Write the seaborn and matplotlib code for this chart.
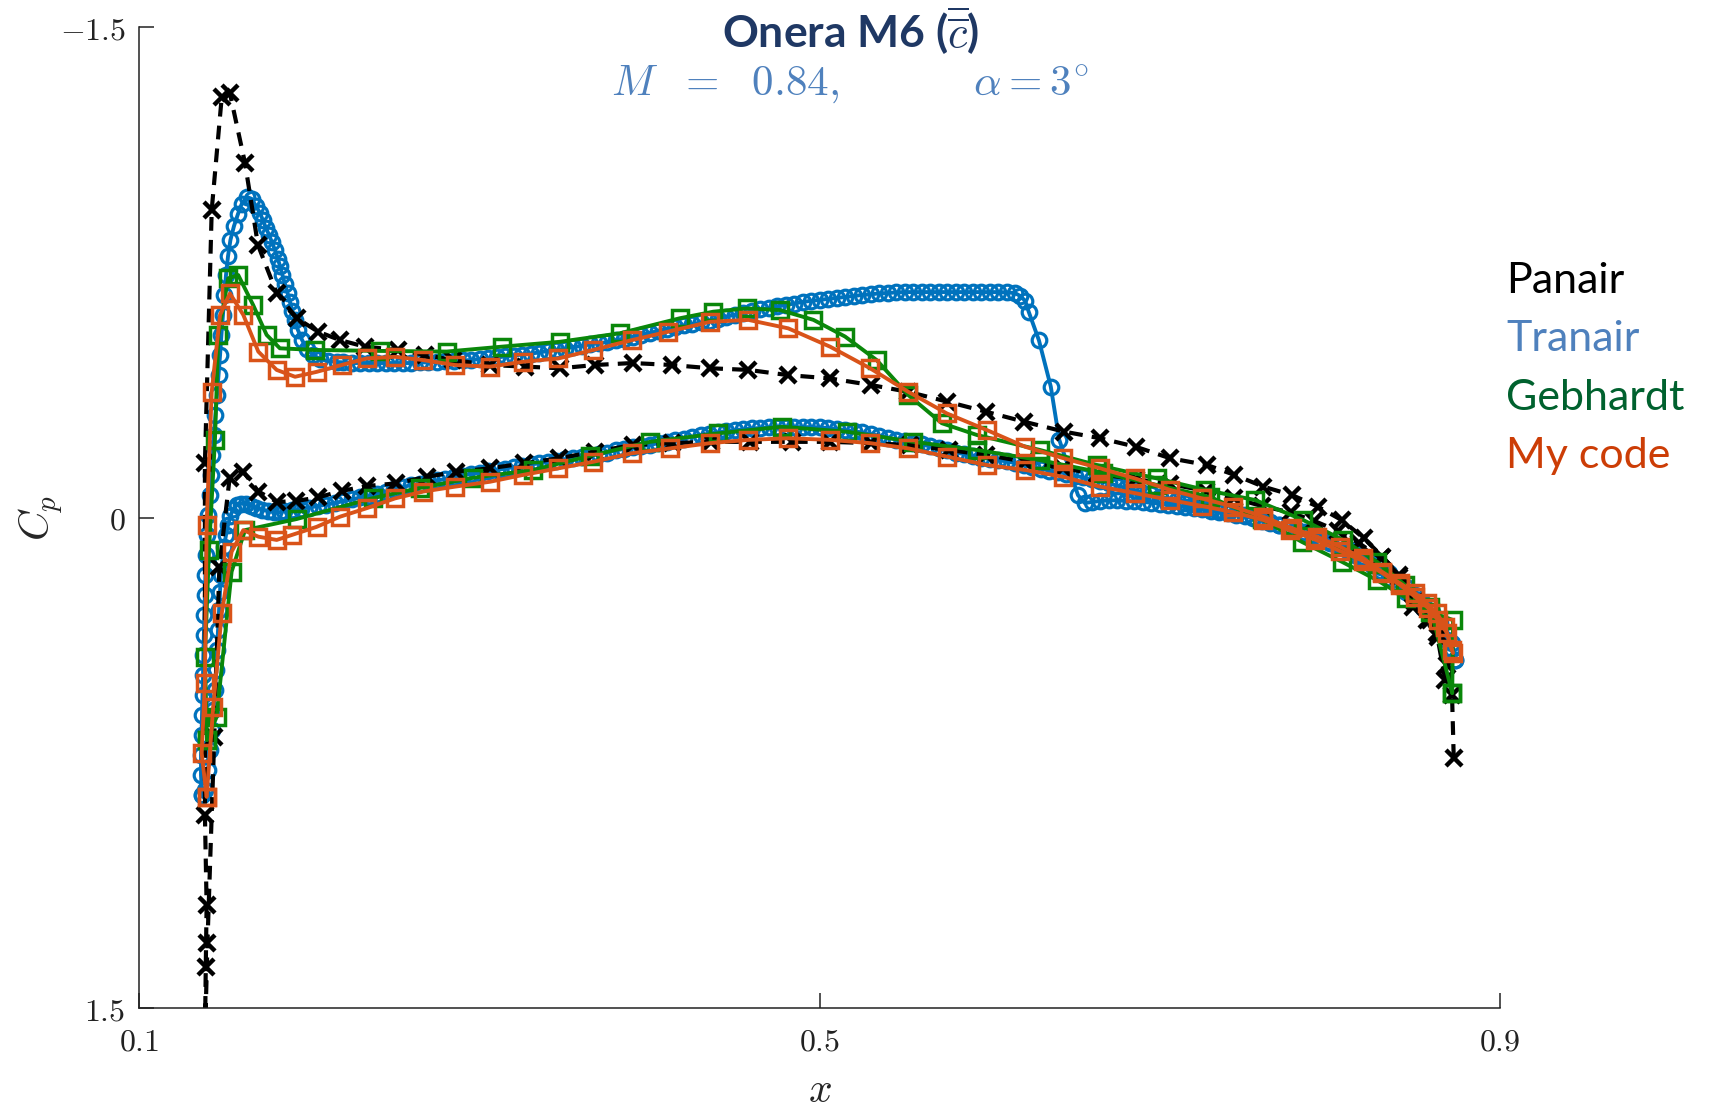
import matplotlib
matplotlib.use("Agg")
import matplotlib.pyplot as plt
import pandas as pd
import seaborn as sns

# ---------------- data (x/c, Cp) ----------------
# Panair: lower surface (TE -> LE) then upper surface (LE -> TE)
panair_lower_x = [0.868, 0.863, 0.857, 0.849, 0.841, 0.830, 0.817, 0.805, 0.791, 0.777,
                  0.760, 0.744, 0.727, 0.706, 0.686, 0.663, 0.643, 0.621, 0.598, 0.576,
                  0.553, 0.530, 0.506, 0.484, 0.459, 0.436, 0.413, 0.390, 0.368, 0.347,
                  0.326, 0.306, 0.286, 0.269, 0.251, 0.234, 0.219, 0.205, 0.192, 0.181,
                  0.170, 0.161, 0.153, 0.147, 0.144, 0.140, 0.1385]
panair_lower_cp = [0.496, 0.353, 0.313, 0.272, 0.180, 0.123, 0.077, 0.041, 0.010, -0.016,
                   -0.036, -0.059, -0.082, -0.103, -0.118, -0.134, -0.151, -0.171, -0.192, -0.207,
                   -0.222, -0.228, -0.232, -0.232, -0.232, -0.232, -0.228, -0.222, -0.202, -0.182,
                   -0.166, -0.151, -0.140, -0.125, -0.105, -0.097, -0.082, -0.062, -0.051, -0.048,
                   -0.080, -0.141, -0.120, 0.151, 0.671, 1.300, 1.600]
panair_upper_x = [0.139, 0.1395, 0.1385, 0.1385, 0.1425, 0.1484, 0.1532, 0.1621, 0.1697, 0.1807,
                  0.1925, 0.205, 0.218, 0.2326, 0.252, 0.268, 0.2844, 0.306, 0.3268, 0.3474,
                  0.368, 0.390, 0.413, 0.4356, 0.458, 0.4816, 0.506, 0.530, 0.552, 0.575,
                  0.598, 0.620, 0.644, 0.665, 0.686, 0.706, 0.728, 0.744, 0.761, 0.778,
                  0.793, 0.807, 0.820, 0.831, 0.841, 0.850, 0.859, 0.864, 0.869, 0.872, 0.873]
panair_upper_cp = [1.373, 1.184, 0.909, -0.167, -0.941, -1.287, -1.298, -1.084, -0.834, -0.687,
                   -0.610, -0.569, -0.543, -0.523, -0.513, -0.498, -0.482, -0.467, -0.462, -0.457,
                   -0.467, -0.473, -0.467, -0.457, -0.452, -0.436, -0.426, -0.406, -0.385, -0.355,
                   -0.324, -0.294, -0.263, -0.243, -0.217, -0.182, -0.161, -0.131, -0.095, -0.069,
                   -0.034, 0.007, 0.062, 0.119, 0.175, 0.257, 0.313, 0.364, 0.450, 0.542, 0.735]

# Tranair: upper surface (LE -> TE)
tranair_upper_x = [
    0.1368, 0.1362, 0.1362, 0.1365, 0.1368, 0.1371, 0.1374, 0.1376, 0.1379, 0.1382,
    0.1385, 0.1388, 0.1394, 0.1400, 0.1406, 0.1412, 0.1421, 0.1429, 0.1438, 0.1447,
    0.1456, 0.1465, 0.1474, 0.1482, 0.1491, 0.1500, 0.1509, 0.1521, 0.1535, 0.1556,
    0.1579, 0.1601, 0.1631, 0.1660, 0.1685, 0.1709, 0.1726, 0.1744, 0.1762, 0.1779,
    0.1797, 0.1815, 0.1826, 0.1841, 0.1856, 0.1871, 0.1885, 0.1900, 0.1915, 0.1932,
    0.1956, 0.1985, 0.2021, 0.2062, 0.2109, 0.2162,
    0.220, 0.225, 0.230, 0.235, 0.240, 0.245, 0.250, 0.255, 0.260, 0.265,
    0.270, 0.275, 0.280, 0.285, 0.290, 0.295, 0.300, 0.305, 0.310, 0.315,
    0.320, 0.325, 0.330, 0.335, 0.340, 0.345, 0.350, 0.355, 0.360, 0.365,
    0.370, 0.375, 0.380, 0.385, 0.390, 0.395, 0.400, 0.405, 0.410, 0.415,
    0.420, 0.425, 0.430, 0.435, 0.440, 0.445, 0.450, 0.455, 0.460, 0.465,
    0.470, 0.475, 0.480, 0.485, 0.490, 0.495, 0.500, 0.505, 0.510, 0.515,
    0.520, 0.525, 0.530, 0.535, 0.540, 0.545, 0.550, 0.555, 0.560, 0.565,
    0.570, 0.575, 0.580, 0.585, 0.590, 0.595, 0.600, 0.605, 0.610, 0.615,
    0.618, 0.621, 0.623, 0.629, 0.636, 0.641, 0.652, 0.656,
    0.660, 0.665, 0.670, 0.675, 0.680, 0.685, 0.690, 0.695, 0.700, 0.705,
    0.710, 0.715, 0.720, 0.725, 0.730, 0.735, 0.740, 0.745, 0.750, 0.755,
    0.760, 0.765, 0.770, 0.775, 0.780, 0.785, 0.790, 0.795, 0.800, 0.805,
    0.810, 0.815, 0.820, 0.825, 0.830, 0.835, 0.840, 0.845, 0.850, 0.855,
    0.860, 0.865, 0.869, 0.872, 0.874]
tranair_upper_cp = [
    0.848, 0.787, 0.726, 0.665, 0.603, 0.542, 0.481, 0.420, 0.359, 0.298,
    0.236, 0.175, 0.114, 0.053, -0.008, -0.070, -0.131, -0.192, -0.253, -0.314,
    -0.375, -0.436, -0.497, -0.559, -0.620, -0.681, -0.742, -0.800, -0.849, -0.892,
    -0.928, -0.959, -0.981, -0.975, -0.953, -0.932, -0.910, -0.886, -0.865, -0.843,
    -0.819, -0.791, -0.770, -0.742, -0.715, -0.687, -0.660, -0.632, -0.605, -0.574,
    -0.544, -0.516, -0.498, -0.485, -0.479, -0.476,
    -0.475, -0.473, -0.473, -0.473, -0.473, -0.473, -0.473, -0.473, -0.473, -0.475,
    -0.475, -0.476, -0.478, -0.479, -0.481, -0.482, -0.485, -0.487, -0.490, -0.493,
    -0.496, -0.499, -0.502, -0.505, -0.510, -0.513, -0.517, -0.522, -0.525, -0.530,
    -0.533, -0.537, -0.543, -0.548, -0.553, -0.559, -0.565, -0.571, -0.577, -0.582,
    -0.588, -0.592, -0.597, -0.603, -0.609, -0.615, -0.620, -0.626, -0.631, -0.637,
    -0.641, -0.646, -0.650, -0.655, -0.660, -0.663, -0.666, -0.669, -0.672, -0.675,
    -0.678, -0.681, -0.683, -0.686, -0.687, -0.689, -0.690, -0.690, -0.690, -0.690,
    -0.690, -0.690, -0.690, -0.690, -0.690, -0.690, -0.690, -0.690, -0.689, -0.687,
    -0.678, -0.663, -0.630, -0.543, -0.401, -0.238, -0.069, -0.045,
    -0.048, -0.051, -0.053, -0.053, -0.051, -0.050, -0.048, -0.046, -0.043, -0.040,
    -0.037, -0.034, -0.031, -0.027, -0.022, -0.017, -0.013, -0.008, -0.004, 0.002,
    0.009, 0.015, 0.021, 0.028, 0.036, 0.044, 0.054, 0.064, 0.073, 0.083,
    0.094, 0.106, 0.120, 0.135, 0.151, 0.169, 0.189, 0.212, 0.236, 0.261,
    0.288, 0.322, 0.352, 0.383, 0.435]

# Tranair: lower surface (LE -> TE)
tranair_lower_x = [
    0.1368, 0.1385, 0.1403, 0.1415, 0.1426, 0.1435, 0.1444, 0.1450, 0.1456, 0.1462,
    0.1468, 0.1474, 0.1479, 0.1488, 0.1497, 0.1509, 0.1521, 0.1535, 0.1550, 0.1574,
    0.1597, 0.1626, 0.1656, 0.1685, 0.1721, 0.1756, 0.1791, 0.1826,
    0.185, 0.190, 0.195, 0.200, 0.205, 0.210, 0.215, 0.220, 0.225, 0.230,
    0.235, 0.240, 0.245, 0.250, 0.255, 0.260, 0.265, 0.270, 0.275, 0.280,
    0.285, 0.290, 0.295, 0.300, 0.305, 0.310, 0.315, 0.320, 0.325, 0.330,
    0.335, 0.340, 0.345, 0.350, 0.355, 0.360, 0.365, 0.370, 0.375, 0.380,
    0.385, 0.390, 0.395, 0.400, 0.405, 0.410, 0.415, 0.420, 0.425, 0.430,
    0.435, 0.440, 0.445, 0.450, 0.455, 0.460, 0.465, 0.470, 0.475, 0.480,
    0.485, 0.490, 0.495, 0.500, 0.505, 0.510, 0.515, 0.520, 0.525, 0.530,
    0.535, 0.540, 0.545, 0.550, 0.555, 0.560, 0.565, 0.570, 0.575, 0.580,
    0.585, 0.590, 0.595, 0.600, 0.605, 0.610, 0.615, 0.620, 0.625, 0.630,
    0.635, 0.640, 0.645, 0.650, 0.655, 0.660, 0.665, 0.670, 0.675, 0.680,
    0.685, 0.690, 0.695, 0.700, 0.705, 0.710, 0.715, 0.720, 0.725, 0.730,
    0.735, 0.740, 0.745, 0.750, 0.755, 0.760, 0.765, 0.770, 0.775, 0.780,
    0.785, 0.790, 0.795, 0.800, 0.805, 0.810, 0.815, 0.820, 0.825, 0.830,
    0.835, 0.840, 0.845, 0.850, 0.855, 0.860, 0.865, 0.869, 0.872, 0.874]
tranair_lower_cp = [
    0.848, 0.833, 0.772, 0.710, 0.649, 0.588, 0.527, 0.466, 0.405, 0.343,
    0.282, 0.227, 0.175, 0.129, 0.090, 0.053, 0.022, -0.005, -0.026, -0.039,
    -0.043, -0.042, -0.037, -0.031, -0.025, -0.020, -0.017, -0.017,
    -0.019, -0.024, -0.028, -0.031, -0.036, -0.040, -0.045, -0.051, -0.056, -0.062,
    -0.066, -0.074, -0.080, -0.088, -0.094, -0.100, -0.103, -0.109, -0.114, -0.118,
    -0.124, -0.129, -0.134, -0.138, -0.143, -0.146, -0.150, -0.155, -0.158, -0.163,
    -0.166, -0.170, -0.173, -0.178, -0.183, -0.187, -0.190, -0.195, -0.199, -0.206,
    -0.210, -0.215, -0.219, -0.222, -0.228, -0.233, -0.238, -0.242, -0.247, -0.253,
    -0.257, -0.261, -0.265, -0.268, -0.270, -0.273, -0.274, -0.276, -0.277, -0.277,
    -0.277, -0.277, -0.277, -0.276, -0.274, -0.271, -0.268, -0.264, -0.261, -0.256,
    -0.251, -0.245, -0.239, -0.235, -0.228, -0.224, -0.218, -0.212, -0.206, -0.199,
    -0.195, -0.190, -0.184, -0.181, -0.176, -0.172, -0.167, -0.161, -0.155, -0.150,
    -0.144, -0.140, -0.135, -0.129, -0.123, -0.117, -0.111, -0.105, -0.098, -0.091,
    -0.085, -0.077, -0.071, -0.063, -0.059, -0.053, -0.046, -0.042, -0.037, -0.031,
    -0.025, -0.020, -0.014, -0.008, -0.001, 0.006, 0.013, 0.021, 0.028, 0.038,
    0.047, 0.057, 0.067, 0.077, 0.088, 0.100, 0.114, 0.129, 0.145, 0.163,
    0.183, 0.203, 0.226, 0.250, 0.276, 0.307, 0.340, 0.374, 0.402, 0.435]

# Gebhardt
geb_upper_x = [0.1397, 0.1385, 0.1409, 0.1444, 0.1464, 0.1522, 0.1581, 0.1669, 0.1748, 0.1826,
               0.2032, 0.2415, 0.2807, 0.3131, 0.3474, 0.3826, 0.4179, 0.4375, 0.4572, 0.4768,
               0.4964, 0.5150, 0.5336, 0.5522, 0.5719, 0.5925, 0.6297, 0.6632, 0.6985, 0.7268,
               0.7562, 0.7844, 0.8079, 0.8279, 0.8444, 0.8591, 0.8721]
geb_upper_cp = [0.680, 0.425, 0.099, -0.238, -0.559, -0.732, -0.742, -0.650, -0.559, -0.518,
                -0.513, -0.510, -0.508, -0.523, -0.538, -0.564, -0.610, -0.630, -0.640, -0.635,
                -0.605, -0.554, -0.482, -0.375, -0.289, -0.253, -0.207, -0.161, -0.120, -0.085,
                -0.054, 0.007, 0.068, 0.135, 0.206, 0.273, 0.536]
geb_lower_x = [0.1397, 0.1454, 0.1542, 0.1621, 0.1925, 0.2374, 0.2650, 0.2962, 0.3315, 0.3650,
               0.4003, 0.4405, 0.4778, 0.5160, 0.5552, 0.5925, 0.6297, 0.6668, 0.6985, 0.7297,
               0.7601, 0.7837, 0.8073, 0.8279, 0.8450, 0.8591, 0.8726, 0.8721]
geb_lower_cp = [0.680, 0.609, 0.165, 0.038, 0.004, -0.060, -0.091, -0.122, -0.146, -0.189,
                -0.232, -0.258, -0.278, -0.263, -0.232, -0.207, -0.176, -0.137, -0.100, -0.063,
                0.005, 0.074, 0.135, 0.191, 0.245, 0.288, 0.313, 0.536]

# My code
my_upper_x = [0.1395, 0.1366, 0.1385, 0.1395, 0.1425, 0.1474, 0.1532, 0.1611, 0.1699, 0.1807,
              0.1915, 0.2042, 0.2189, 0.2336, 0.2503, 0.2669, 0.2856, 0.3062, 0.3258, 0.3464,
              0.3669, 0.3895, 0.4111, 0.4356, 0.4581, 0.4816, 0.5062, 0.5297, 0.5522, 0.5748,
              0.5984, 0.6209, 0.6434, 0.6650, 0.6856, 0.7062, 0.7248, 0.7432, 0.7609, 0.7778,
              0.7925, 0.8062, 0.8197, 0.8307, 0.8415, 0.8503, 0.8572, 0.8631, 0.8679, 0.8719]
my_upper_cp = [0.853, 0.720, 0.506, 0.022, -0.385, -0.620, -0.686, -0.620, -0.508, -0.452,
               -0.431, -0.446, -0.467, -0.487, -0.492, -0.482, -0.467, -0.462, -0.477, -0.487,
               -0.513, -0.543, -0.569, -0.599, -0.605, -0.579, -0.523, -0.457, -0.385, -0.319,
               -0.268, -0.217, -0.182, -0.151, -0.120, -0.085, -0.059, -0.034, -0.003, 0.032,
               0.058, 0.089, 0.124, 0.165, 0.201, 0.231, 0.262, 0.292, 0.333, 0.405]
my_lower_x = [0.1395, 0.1434, 0.1484, 0.1542, 0.1611, 0.1699, 0.1807, 0.1895, 0.2042, 0.2179,
              0.2336, 0.2503, 0.2669, 0.2856, 0.3062, 0.3258, 0.3464, 0.3669, 0.3895, 0.4121,
              0.4356, 0.4581, 0.4816, 0.5062, 0.5297, 0.5522, 0.5748, 0.5984, 0.6209, 0.6434,
              0.6650, 0.6856, 0.7062, 0.7248, 0.7432, 0.7609, 0.7768, 0.7915, 0.8062, 0.8197,
              0.8309, 0.8415, 0.8503, 0.8579, 0.8638, 0.8691, 0.8726]
my_lower_cp = [0.853, 0.578, 0.292, 0.104, 0.038, 0.058, 0.068, 0.053, 0.028, -0.003,
               -0.029, -0.059, -0.080, -0.095, -0.110, -0.131, -0.151, -0.171, -0.197, -0.212,
               -0.228, -0.238, -0.243, -0.238, -0.228, -0.212, -0.187, -0.161, -0.146, -0.125,
               -0.095, -0.075, -0.054, -0.036, -0.017, 0.007, 0.039, 0.067, 0.102, 0.132,
               0.169, 0.206, 0.242, 0.276, 0.313, 0.353, 0.414]

x_ticks = [0.1, 0.5, 0.9]
x_tick_labels = ["$0.1$", "$0.5$", "$0.9$"]
y_ticks = [-1.5, 0.0, 1.5]
y_tick_labels = ["$-1.5$", "$0$", "$1.5$"]

legend_names = ["Panair", "Tranair", "Gebhardt", "My code"]
legend_colors = ["#000000", "#4F81BD", "#00612E", "#CC3D06"]

# ---------------- style ----------------
sns.set_style("ticks")
plt.rcParams["font.family"] = ["Lato", "DejaVu Sans"]
plt.rcParams["mathtext.fontset"] = "cm"

fig = plt.figure(figsize=(17.09, 11.07), dpi=100)
ax = fig.add_axes([0.0816, 0.08925, 0.7959, 0.88618])


def draw(xs, ys, **kw):
    df = pd.DataFrame({"x": xs, "Cp": ys})
    sns.lineplot(data=df, x="x", y="Cp", sort=False, estimator=None, ax=ax, **kw)


c_tran = "#0072BD"
c_geb = "#0A870A"
c_my = "#D95319"

tran_kw = dict(color=c_tran, linewidth=2.8, marker="o", markersize=10.5,
               markerfacecolor="none", markeredgecolor=c_tran, markeredgewidth=2.3)
draw(tranair_upper_x, tranair_upper_cp, **tran_kw)
draw(tranair_lower_x, tranair_lower_cp, **tran_kw)

pan_kw = dict(color="black", linewidth=3.0, linestyle=(0, (3.3, 2.2)), marker="x",
              markersize=12, markeredgecolor="black", markeredgewidth=3.2)
draw(panair_lower_x + panair_upper_x, panair_lower_cp + panair_upper_cp, **pan_kw)

geb_kw = dict(color=c_geb, linewidth=2.8, marker="s", markersize=11.5,
              markerfacecolor="none", markeredgecolor=c_geb, markeredgewidth=2.5)
draw(geb_upper_x, geb_upper_cp, **geb_kw)
draw(geb_lower_x, geb_lower_cp, **geb_kw)

my_kw = dict(color=c_my, linewidth=2.8, marker="s", markersize=11.5,
             markerfacecolor="none", markeredgecolor=c_my, markeredgewidth=2.5)
draw(my_upper_x, my_upper_cp, **my_kw)
draw(my_lower_x, my_lower_cp, **my_kw)

ax.set_xlim(0.1, 0.9)
ax.set_ylim(1.5, -1.5)
ax.set_xticks(x_ticks)
ax.set_xticklabels(x_tick_labels)
ax.set_yticks(y_ticks)
ax.set_yticklabels(y_tick_labels)
ax.set_xlabel("")
ax.set_ylabel("")
ax.tick_params(axis="both", direction="in", length=11, width=1.1, labelsize=23,
               colors="#222222")
ax.tick_params(axis="x", pad=13)
ax.tick_params(axis="y", pad=10)
sns.despine(ax=ax)
for s in ("left", "bottom"):
    ax.spines[s].set_linewidth(1.1)
    ax.spines[s].set_color("#222222")

fig.text(820 / 1709, 1 - 1090 / 1107, "$x$", ha="center", va="center", fontsize=30)
fig.text(41 / 1709, 1 - 518 / 1107, "$C_p$", ha="center", va="center", fontsize=30,
         rotation=90)

fig.text(0.4975, 0.9724, r"Onera M6 ($\overline{\overline{c}}$)", ha="center", va="center",
         fontsize=32, fontweight="bold", color="#1F3864")
fig.text(0.4975, 0.9232, r"$M\ \ =\ \ 0.84,\qquad\quad\ \alpha = 3^{\circ}$", ha="center",
         va="center", fontsize=31, color="#4F81BD")

for i, (name, col) in enumerate(zip(legend_names, legend_colors)):
    fig.text(1506 / 1709, 1 - (281 + 58.3 * i) / 1107, name, ha="left", va="center",
             fontsize=31, color=col)

fig.savefig("out.png", dpi=100)
